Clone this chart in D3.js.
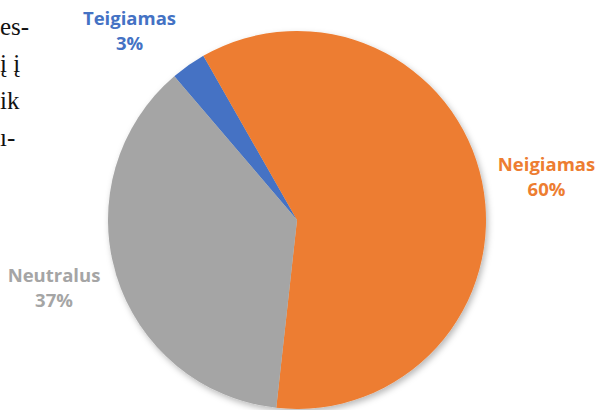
<!DOCTYPE html>
<html>
<head>
<meta charset="utf-8">
<script src="https://cdn.jsdelivr.net/npm/d3@7"></script>
<style>
  html, body { margin: 0; padding: 0; background: #fff; }
  svg { display: block; }
</style>
</head>
<body>
<svg id="chart" width="598" height="410"></svg>
<script>
// Data
const categories = ["Teigiamas", "Neigiamas", "Neutralus"];
const values = [3, 60, 37];
const percentLabels = ["3%", "60%", "37%"];
const colors = ["#4472C4", "#ED7D31", "#A5A5A5"];
// Cropped body text from the neighbouring page column
const sideTextLines = ["es-", "į į", "ik", "ı-"];

const W = 598, H = 410;
const cx = 297, cy = 220, R = 189;
const startDeg = -40.5;

const svg = d3.select("#chart");

// soft shadow
const defs = svg.append("defs");
const f = defs.append("filter").attr("id", "shadow")
  .attr("x", "-20%").attr("y", "-20%").attr("width", "140%").attr("height", "140%");
f.append("feDropShadow").attr("dx", 2).attr("dy", 3).attr("stdDeviation", 3)
  .attr("flood-color", "#000").attr("flood-opacity", 0.28);

// side text
const sideLayout = [{x: 0, y: 35}, {x: 0, y: 72}, {x: 0, y: 109}, {x: 0, y: 146}];
svg.append("g").selectAll("text").data(sideTextLines).join("text")
  .attr("x", (d, i) => sideLayout[i].x)
  .attr("y", (d, i) => sideLayout[i].y)
  .attr("font-family", "'Liberation Serif', 'Times New Roman', serif")
  .attr("font-size", 25)
  .attr("fill", "#111")
  .text(d => d);

const data = categories.map((c, i) => ({ name: c, value: values[i], pct: percentLabels[i], color: colors[i] }));

const pie = d3.pie().sort(null).value(d => d.value)
  .startAngle(startDeg * Math.PI / 180)
  .endAngle((startDeg + 360) * Math.PI / 180);
const arc = d3.arc().innerRadius(0).outerRadius(R);

const g = svg.append("g").attr("transform", `translate(${cx},${cy})`);
g.append("g").attr("filter", "url(#shadow)")
  .selectAll("path").data(pie(data)).join("path")
  .attr("d", arc)
  .attr("fill", d => d.data.color);

// labels
const labelLayout = {
  "Teigiamas": { x: 129.5, y: 25 },
  "Neigiamas": { x: 546.5, y: 171 },
  "Neutralus": { x: 54, y: 282 }
};
const lg = svg.append("g");
data.forEach(d => {
  const p = labelLayout[d.name];
  const t = lg.append("text")
    .attr("x", p.x).attr("y", p.y)
    .attr("text-anchor", "middle")
    .attr("font-family", "'Open Sans', 'Noto Sans', sans-serif")
    .attr("font-weight", 700)
    .attr("font-size", 18.5)
    .attr("fill", d.color);
  t.append("tspan").attr("x", p.x).text(d.name);
  t.append("tspan").attr("x", p.x).attr("dy", 25).text(d.pct);
});
</script>
</body>
</html>
